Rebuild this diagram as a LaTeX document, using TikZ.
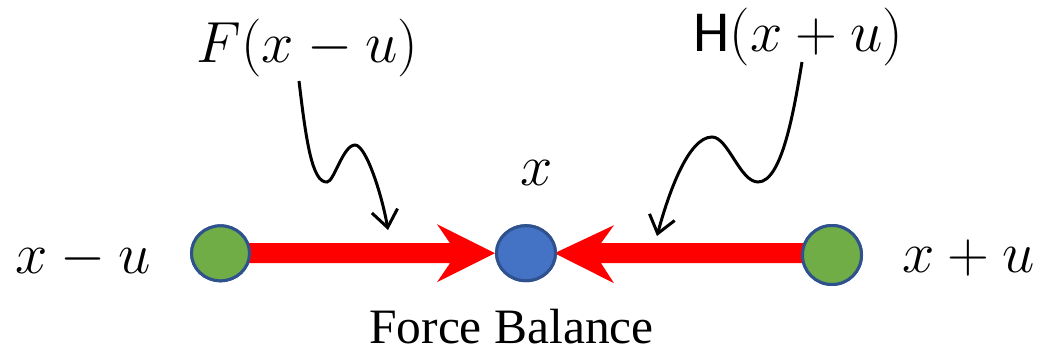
\RequirePackage{fix-cm}
\documentclass[tikz,border=0pt]{standalone}
\usepackage{fontspec}
\setmainfont{Liberation Serif}
\newfontfamily\carlito{Carlito}
\usetikzlibrary{calc,shapes.geometric,arrows.meta}
\definecolor{ballgreen}{HTML}{70AD47}
\definecolor{ballblue}{HTML}{4472C4}
\definecolor{balledge}{HTML}{2F528F}
\definecolor{arrred}{HTML}{FF0000}
\tikzset{
  ball/.style={ellipse, draw=balledge, line width=3pt, inner sep=0pt},
  gball/.style={ball, fill=ballgreen},
  bball/.style={ball, fill=ballblue},
  redarrow/.style={fill=arrred, draw=none},
  mlabel/.style={inner sep=0pt, anchor=base, font=\fontsize{58}{66}\selectfont},
  tlabel/.style={inner sep=0pt, anchor=base, font=\fontsize{49.5}{56}\selectfont},
  squig/.style={line width=3pt, black, -{Straight Barb[length=17pt, width=26pt]}},
}
\begin{document}
\begin{tikzpicture}[x=1pt, y=-1pt]
\useasboundingbox (0,0) rectangle (1041,353);
% balls (placed first to get anchors)
\node[gball, minimum width=58pt, minimum height=55pt] (L) at (220.5,253.3) {};
\node[bball, minimum width=59pt, minimum height=55pt] (B) at (526,253.2) {};
\node[gball, minimum width=59pt, minimum height=59pt] (R) at (832,255) {};
% red force arrows
\fill[redarrow] ($(B.west -| L.center)+(0,-10)$) -- ($(B.west)+(-45,-10)$) -- ($(B.west)+(-58,-29)$)
  -- (B.west) -- ($(B.west)+(-58,29)$) -- ($(B.west)+(-45,10)$) -- ($(B.west -| L.center)+(0,10)$) -- cycle;
\fill[redarrow] ($(B.east -| R.center)+(0,-10)$) -- ($(B.east)+(44,-10)$) -- ($(B.east)+(57,-28)$)
  -- ($(B.east)+(-2.5,0)$) -- ($(B.east)+(57,30)$) -- ($(B.east)+(44,10)$) -- ($(B.east -| R.center)+(0,10)$) -- cycle;
% redraw balls on top
\node[gball, minimum width=58pt, minimum height=55pt] at (L.center) {};
\node[bball, minimum width=59pt, minimum height=55pt] at (B.center) {};
\node[gball, minimum width=59pt, minimum height=59pt] at (R.center) {};
% labels
\node[mlabel] (Flab) at (307.4,63) {$F(x-u)$};
\node[mlabel] (Hlab) at (798.3,51.7) {{\carlito H}$(x+u)$};
\node[mlabel] (xlab) at (537,185) {$x$};
\node[mlabel] (xmu) at (83.4,273) {$x-u$};
\node[mlabel] (xpu) at (968.4,272) {$x+u$};
\node[tlabel] (force) at (511.5,343) {Force Balance};
% squiggly connectors
\coordinate (fs) at (299,81);
\coordinate (fe) at (388,230);
\coordinate (hs) at (802,62);
\coordinate (he) at (657,236);
\draw[squig] (fs) .. controls (306,140) and (312,183) .. (327,182)
  .. controls (334,182) and (343,145) .. (355,145)
  .. controls (366,145) and (382,195) .. (fe);
\draw[squig] (hs) .. controls (794,110) and (782,182) .. (758,182)
  .. controls (740,182) and (728,137) .. (712,137)
  .. controls (688,137) and (668,195) .. (he);
\end{tikzpicture}
\end{document}
